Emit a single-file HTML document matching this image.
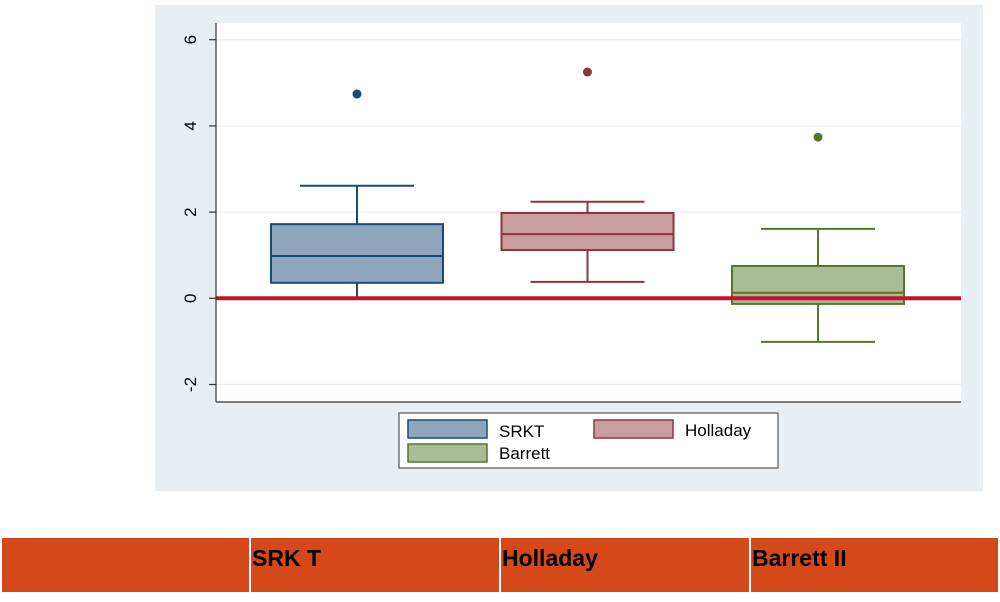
<!DOCTYPE html>
<html><head><meta charset="utf-8"><style>
body{margin:0;width:1000px;height:597px;background:#fff;overflow:hidden;font-family:"Liberation Sans",sans-serif}
</style></head><body>
<svg width="1000" height="597" xmlns="http://www.w3.org/2000/svg">
<rect x="155" y="5" width="828" height="486" fill="#e8eff2"/>
<rect x="216" y="23" width="745" height="379" fill="#fff"/>
<g id="grid"></g>
<g id="boxes"></g>
<line x1="216" y1="23" x2="216" y2="402" stroke="#333" stroke-width="1.2"/>
<line x1="216" y1="402" x2="961" y2="402" stroke="#333" stroke-width="1.2"/>
<rect x="399" y="413" width="379" height="55" fill="#fff" stroke="#555" stroke-width="1.2"/>
<g><rect x="408" y="420" width="79" height="18" fill="#8fa5bb" stroke="#1a4a75" stroke-width="1.5"/><text x="499" y="437" font-size="17">SRKT</text></g>
<g><rect x="594" y="420" width="79" height="18" fill="#c99ca0" stroke="#90353b" stroke-width="1.5"/><text x="685" y="436" font-size="17">Holladay</text></g>
<g><rect x="408" y="444" width="79" height="18" fill="#abbb94" stroke="#4e7a2a" stroke-width="1.5"/><text x="499" y="459" font-size="17">Barrett</text></g>
<g>
<rect x="2" y="538" width="247" height="54" fill="#d5481a"/>
<rect x="251" y="538" width="248" height="54" fill="#d5481a"/>
<rect x="501" y="538" width="248" height="54" fill="#d5481a"/>
<rect x="751" y="538" width="247" height="54" fill="#d5481a"/>
<text x="252" y="566" font-size="23" font-weight="bold">SRK T</text>
<text x="502" y="566" font-size="23" font-weight="bold">Holladay</text>
<text x="752" y="566" font-size="23" font-weight="bold">Barrett II</text>
</g>
</svg>
<script>
const yTicks=[-2,0,2,4,6];
const groups=["SRKT","Holladay","Barrett"];
const q1=[0.36,1.12,-0.13];
const med=[0.98,1.49,0.13];
const q3=[1.72,1.98,0.75];
const whiskLo=[0.0,0.38,-1.01];
const whiskHi=[2.61,2.24,1.61];
const outliers=[4.74,5.25,3.74];
const fills=["#8fa5bb","#c99ca0","#abbb94"];
const strokes=["#1a4a75","#90353b","#4e7a2a"];
const NS="http://www.w3.org/2000/svg";
const y=v=>298.3-v*43.1;
const x=i=>357+i*230.5;
function mk(t,a,p){const e=document.createElementNS(NS,t);for(const k in a)e.setAttribute(k,a[k]);p.appendChild(e);return e;}
const grid=document.getElementById('grid');
yTicks.forEach(t=>{
 const g=mk('line',{x1:216,x2:961,y1:y(t),y2:y(t),stroke:'#e3ecef','stroke-width':1.2},grid);
 
 
 const tk=mk('line',{x1:209,x2:216,y1:y(t),y2:y(t),stroke:'#333','stroke-width':1.2},grid);
 
 
 const tx=mk('text',{x:0,y:0,'font-size':17,'text-anchor':'middle',transform:`translate(196,${y(t)}) rotate(-90)`},grid);
 tx.textContent=t;
 
 
});
const bx=document.getElementById('boxes');
groups.forEach((g,i)=>{
 const c=x(i),s=strokes[i];
 const grp=mk('g',{},bx);
 
 
 mk('line',{x1:c,x2:c,y1:y(whiskHi[i]),y2:y(q3[i]),stroke:s,'stroke-width':2},grp);
 mk('line',{x1:c,x2:c,y1:y(q1[i]),y2:y(whiskLo[i]),stroke:s,'stroke-width':2},grp);
 mk('line',{x1:c-57,x2:c+57,y1:y(whiskHi[i]),y2:y(whiskHi[i]),stroke:s,'stroke-width':2},grp);
 mk('line',{x1:c-57,x2:c+57,y1:y(whiskLo[i]),y2:y(whiskLo[i]),stroke:s,'stroke-width':2},grp);
 mk('rect',{x:c-86,y:y(q3[i]),width:172,height:y(q1[i])-y(q3[i]),fill:fills[i],stroke:s,'stroke-width':2},grp);
 mk('line',{x1:c-86,x2:c+86,y1:y(med[i]),y2:y(med[i]),stroke:s,'stroke-width':2},grp);
 const o=mk('circle',{cx:c,cy:y(outliers[i]),r:4.5,fill:s},grp);
 
 
});
const ref=mk('line',{x1:216,x2:961,y1:y(0),y2:y(0),stroke:'#c8102e','stroke-width':4},bx);


</script>
</body></html>
